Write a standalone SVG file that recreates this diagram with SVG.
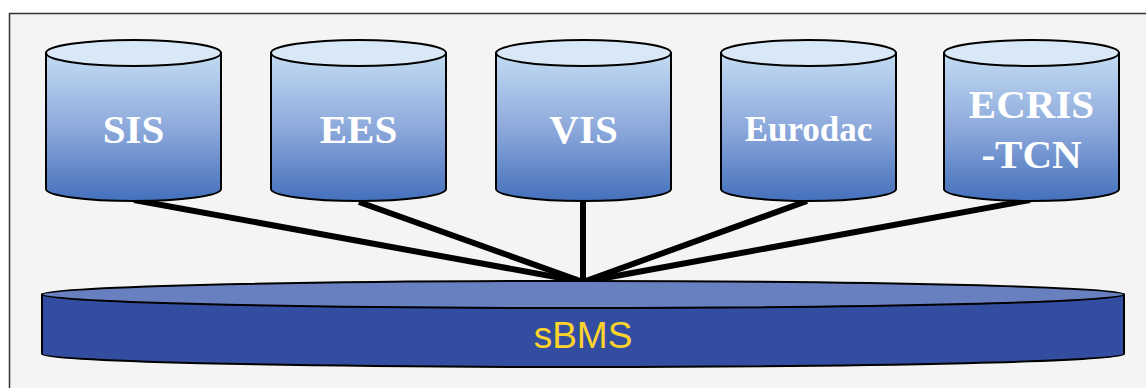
<svg xmlns="http://www.w3.org/2000/svg" width="1146" height="388" viewBox="0 0 1146 388">
<style>
.body{fill:url(#cyl);stroke:#000;stroke-width:2}
.top{fill:#D9E8F6;stroke:#000;stroke-width:2}
.lbl{font-family:"Liberation Serif","Times New Roman",serif;font-weight:bold;fill:#fff;text-anchor:middle}
.conn{stroke:#000;stroke-width:6;stroke-linecap:butt}
</style>
<defs>
<linearGradient id="cyl" x1="0" y1="0" x2="0" y2="1">
<stop offset="0" stop-color="#C2DCF2"/>
<stop offset="0.5" stop-color="#8EAADC"/>
<stop offset="1" stop-color="#4470BC"/>
</linearGradient>
</defs>
<rect x="0" y="0" width="1146" height="388" fill="#fff"/>
<rect x="9.5" y="13.5" width="1150" height="400" fill="#F4F4F4" stroke="#333" stroke-width="1.5"/>
<g id="connectors">
<line class="conn" x1="134" y1="200" x2="583" y2="282"/>
<line class="conn" x1="359" y1="202" x2="583" y2="282"/>
<line class="conn" x1="583" y1="200" x2="583" y2="282"/>
<line class="conn" x1="807" y1="201" x2="583" y2="282"/>
<line class="conn" x1="1030" y1="200" x2="583" y2="282"/>
</g>
<g id="sis">
<path class="body" d="M46,53 V189 A87.5,12 0 0 0 221,189 V53 Z"/>
<ellipse class="top" cx="133.5" cy="53" rx="87.5" ry="13"/>
<text class="lbl" x="133.5" y="143" font-size="41">SIS</text>
</g>
<g id="ees">
<path class="body" d="M271,53 V189 A87.5,12 0 0 0 446,189 V53 Z"/>
<ellipse class="top" cx="358.5" cy="53" rx="87.5" ry="13"/>
<text class="lbl" x="358.5" y="143" font-size="41">EES</text>
</g>
<g id="vis">
<path class="body" d="M496,53 V189 A87.5,12 0 0 0 671,189 V53 Z"/>
<ellipse class="top" cx="583.5" cy="53" rx="87.5" ry="13"/>
<text class="lbl" x="583.5" y="143" font-size="41">VIS</text>
</g>
<g id="eurodac">
<path class="body" d="M721,53 V189 A87.5,12 0 0 0 896,189 V53 Z"/>
<ellipse class="top" cx="808.5" cy="53" rx="87.5" ry="13"/>
<text class="lbl" x="808.5" y="141" font-size="35">Eurodac</text>
</g>
<g id="ecris">
<path class="body" d="M944,53 V189 A87.5,12 0 0 0 1119,189 V53 Z"/>
<ellipse class="top" cx="1031.5" cy="53" rx="87.5" ry="13"/>
<text class="lbl" x="1031.5" y="118" font-size="41">ECRIS</text>
<text class="lbl" x="1031.5" y="168" font-size="41">-TCN</text>
</g>
<g id="sbms">
<path d="M42,294.5 V354 A541,13 0 0 0 1124,354 V294.5 Z" fill="#334EA1" stroke="#000" stroke-width="2"/>
<ellipse cx="583" cy="294.5" rx="541" ry="13.5" fill="#6980C0" stroke="#000" stroke-width="2"/>
<text x="583" y="348" font-family="Liberation Sans, Arial, sans-serif" font-size="37" fill="#FFD42A" text-anchor="middle">sBMS</text>
</g>
</svg>
